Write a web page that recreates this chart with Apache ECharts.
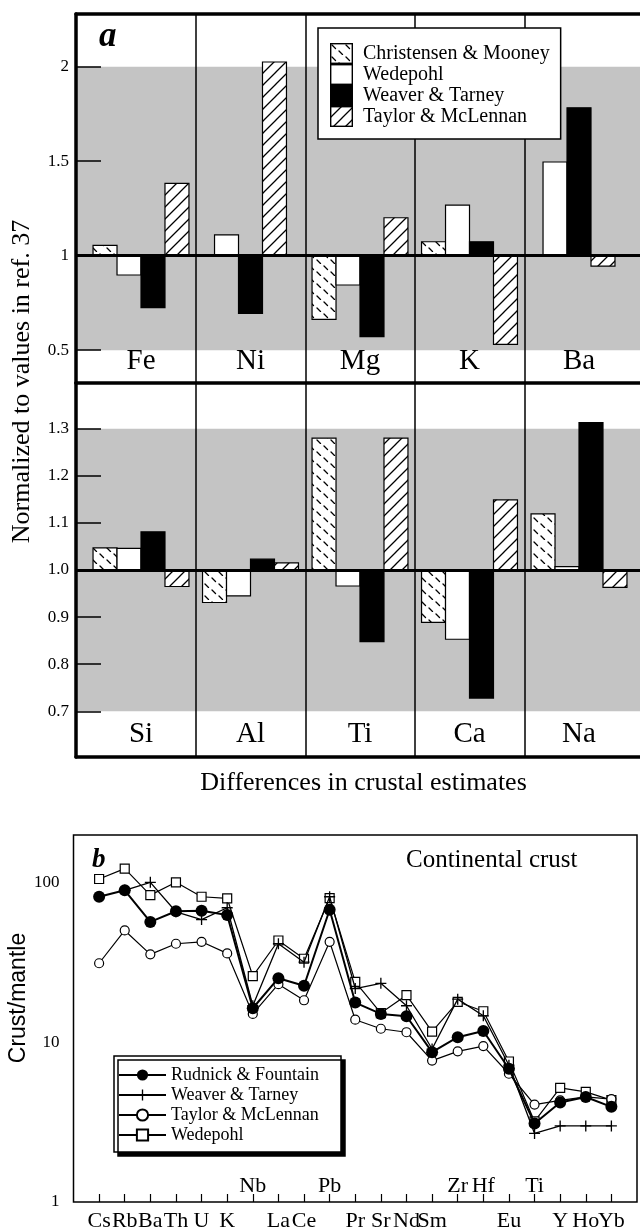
<!DOCTYPE html>
<html><head><meta charset="utf-8">
<script src="https://cdn.jsdelivr.net/npm/echarts@6/dist/echarts.min.js"></script>
<style>html,body{margin:0;padding:0;background:#fff}#c{width:640px;height:1232px}</style>
</head><body><div id="c"></div>
<script>
// ---------- data: panel a ----------
const SERIES_A = ['Christensen & Mooney', 'Wedepohl', 'Weaver & Tarney', 'Taylor & McLennan'];
const CATS_TOP = ['Fe', 'Ni', 'Mg', 'K', 'Ba'];
const CATS_BOT = ['Si', 'Al', 'Ti', 'Ca', 'Na'];
const CM_TOP = [1.055, null, 0.663, 1.074, null];
const WE_TOP = [0.898, 1.11, 0.845, 1.268, 1.496];
const WT_TOP = [0.725, 0.695, 0.572, 1.074, 1.783];
const TM_TOP = [1.383, 2.025, 1.201, 0.531, 0.945];
const CM_BOT = [1.047, 0.931, 1.28, 0.889, 1.119];
const WE_BOT = [1.046, 0.945, 0.966, 0.853, 1.007];
const WT_BOT = [1.081, 1.023, 0.848, 0.728, 1.313];
const TM_BOT = [0.965, 1.015, 1.28, 1.149, 0.963];
const TICKS_TOP = [0.5, 1, 1.5, 2];
const TICKS_BOT = [0.7, 0.8, 0.9, 1.0, 1.1, 1.2, 1.3];
const BAND_TOP = [0.5, 2];
const BAND_BOT = [0.7, 1.3];

// ---------- data: panel b ----------
const CATS_B = ['Cs','Rb','Ba','Th','U','K','Nb','La','Ce','Pb','Pr','Sr','Nd','Sm','Zr','Hf','Eu','Ti','Y','Ho','Yb'];
const UPPER_B = ['Nb','Pb','Zr','Hf','Ti'];
const RF = [82, 90, 57, 66.5, 67, 63, 16.4, 25.3, 22.7, 68, 17.8, 15.1, 14.6, 8.7, 10.8, 11.8, 6.85, 3.11, 4.2, 4.55, 3.95];
const WT_B = [null, 90, 101, 66, 59, 70, 17, 41.6, 31.9, 82, 21.8, 23.5, 17.0, 9.1, 18.7, 14.7, 7.2, 2.69, 3.0, 3.0, 3.0];
const TM_B = [31.4, 50.4, 35.7, 41.6, 42.8, 36.2, 15.1, 23.2, 18.4, 42.8, 13.9, 12.2, 11.6, 7.7, 8.8, 9.5, 6.37, 4.08, 4.34, 4.56, 4.42];
const WE_B = [106, 123, 84, 101, 82, 80, 26.1, 43.6, 33.5, 80.5, 24.0, 15.3, 19.8, 11.7, 18.0, 15.7, 7.6, 3.2, 5.19, 4.9, 4.35];
const MAJOR_B = [1, 10, 100];
const MINOR_B = [2, 3, 4, 5, 6, 7, 8, 9, 20, 30, 40, 50, 60, 70, 80, 90];

// ---------- styles ----------
const SERIF = '"Liberation Serif", "Times New Roman", serif';
const SANS = '"Liberation Sans", Arial, sans-serif';
const GRAY = '#c4c4c4';

function tile(w, h, draw) {
  const c = document.createElement('canvas'); c.width = w; c.height = h;
  const g = c.getContext('2d'); g.fillStyle = '#fff'; g.fillRect(0, 0, w, h);
  g.strokeStyle = '#000'; g.lineWidth = 1.3; g.lineCap = 'round'; draw(g); return c;
}
const hatchTile = tile(12, 12, g => { g.beginPath(); g.moveTo(-1, 13); g.lineTo(13, -1); g.moveTo(-1, 1); g.lineTo(1, -1); g.moveTo(11, 13); g.lineTo(13, 11); g.stroke(); });
const dashTile = tile(14, 12, g => { g.beginPath(); g.moveTo(2, 2); g.lineTo(5.5, 5.5); g.moveTo(9, 8); g.lineTo(12.5, 11.5); g.stroke(); });
const FILLS = [{ image: dashTile, repeat: 'repeat' }, '#ffffff', '#000000', { image: hatchTile, repeat: 'repeat' }];

function legendIcon(fill) {
  const c = document.createElement('canvas'); c.width = 23; c.height = 21;
  const g = c.getContext('2d');
  g.fillStyle = typeof fill === 'string' ? fill : g.createPattern(fill.image, 'repeat');
  g.fillRect(0, 0, 23, 21);
  g.strokeStyle = '#000'; g.lineWidth = 1.4; g.strokeRect(0.7, 0.7, 21.6, 19.6);
  return 'image://' + c.toDataURL();
}

const TOP_SET = [CM_TOP, WE_TOP, WT_TOP, TM_TOP];
const BOT_SET = [CM_BOT, WE_BOT, WT_BOT, TM_BOT];

function barSeries(gi, si, set) {
  return {
    type: 'custom', name: 'a·' + SERIES_A[si], xAxisIndex: gi, yAxisIndex: gi, z: 3,
    itemStyle: { color: si === 2 ? '#000' : '#fff' },
    data: set[si].map((v, i) => [i, v == null ? '-' : v]),
    renderItem(params, api) {
      const i = api.value(0), v = api.value(1);
      if (v == null || isNaN(v)) return null;
      const present = [];
      set.forEach((arr, k) => { if (arr[i] != null) present.push(k); });
      const n = present.length, k = present.indexOf(si);
      const bw = api.size([1, 0])[0] * 0.219;
      const base = api.coord([i, 1]), tip = api.coord([i, v]);
      const x0 = base[0] - n * bw / 2 + k * bw;
      return { type: 'rect', shape: { x: x0, y: Math.min(base[1], tip[1]), width: bw, height: Math.abs(tip[1] - base[1]) },
        style: { fill: FILLS[si], stroke: '#000', lineWidth: 1.2 } };
    }
  };
}
function bandSeries(gi, band) {
  return { type: 'custom', xAxisIndex: gi, yAxisIndex: gi, z: 0, silent: true, data: [[0, band[0], band[1]]],
    renderItem(params, api) {
      const cs = params.coordSys;
      const yHi = api.coord([0, api.value(2)])[1], yLo = api.coord([0, api.value(1)])[1];
      return { type: 'rect', shape: { x: cs.x, y: yHi, width: cs.width, height: yLo - yHi }, style: { fill: GRAY } };
    } };
}
function lineMarks(gi, ncat) {
  const d = [];
  for (let k = 0; k < ncat - 1; k++) d.push({ xAxis: k + 0.5, lineStyle: { width: 1.5, color: '#000', type: 'solid' } });
  d.push({ yAxis: 1, lineStyle: { width: 3.2, color: '#000', type: 'solid' } });
  return { type: 'line', xAxisIndex: gi, yAxisIndex: gi, data: [], z: 5, silent: true,
    markLine: { silent: true, symbol: 'none', label: { show: false }, emphasis: { disabled: true }, data: d } };
}

const padB = arr => [null, ...arr, null];
const CATS_B_PAD = ['', ...CATS_B, ''];
const PLUS = 'path://M4.4,0 h1.2 v4.4 h4.4 v1.2 h-4.4 v4.4 h-1.2 v-4.4 h-4.4 v-1.2 h4.4 z';

const X_MIN = -0.5936, X_MAX = 4.557;
const FRAME = { show: true, onZero: false, lineStyle: { color: '#000', width: 3.5 } };
function xAxisA(gi, cats, margin) {
  return { type: 'value', gridIndex: gi, min: X_MIN, max: X_MAX, position: 'bottom',
    axisLine: FRAME, axisTick: { show: false }, splitLine: { show: false },
    axisLabel: { inside: true, customValues: cats.map((c, i) => i), formatter: v => cats[Math.round(v)] || '',
      fontFamily: SERIF, fontSize: 29, color: '#000', margin: margin } };
}
function yAxisA(gi, min, max, ticks, fmt) {
  return { type: 'value', gridIndex: gi, min: min, max: max, position: 'left',
    axisLine: FRAME, splitLine: { show: false },
    axisTick: { inside: true, length: 25, customValues: ticks, lineStyle: { color: '#000', width: 1.5 } },
    axisLabel: { customValues: ticks, formatter: fmt, fontFamily: SERIF, fontSize: 17, color: '#000', margin: 7 } };
}
function yAxisB(pos, ticks, len, labels) {
  return { type: 'log', logBase: 10, gridIndex: 2, min: 1, max: 200, position: pos,
    axisLine: { show: false, onZero: false }, splitLine: { show: false }, minorTick: { show: false },
    axisTick: { inside: true, length: len, customValues: ticks, lineStyle: { color: '#000', width: 1.2 } },
    axisLabel: labels ? { customValues: ticks, fontFamily: SERIF, fontSize: 17, color: '#000', margin: 14 } : { show: false } };
}

const chart = echarts.init(document.getElementById('c'));
chart.setOption({
  animation: false,
  backgroundColor: '#fff',
  grid: [
    { left: 76, top: 14, right: 0, height: 369, show: false },
    { left: 76, top: 383, right: 0, height: 374, show: false },
    { left: 73.5, top: 835, width: 564.5, height: 369, show: true, borderColor: '#000', borderWidth: 1.5, backgroundColor: 'transparent' }
  ],
  xAxis: [
    xAxisA(0, CATS_TOP, 7),
    xAxisA(1, CATS_BOT, 8),
    { type: 'category', gridIndex: 2, data: CATS_B_PAD, boundaryGap: false,
      axisLine: { show: false, onZero: false }, splitLine: { show: false },
      axisTick: { inside: true, length: 8, interval: (i) => i > 0 && i < CATS_B_PAD.length - 1, lineStyle: { color: '#000', width: 1.2 } },
      axisLabel: { interval: 0, formatter: v => UPPER_B.includes(v) ? '' : v, fontFamily: SERIF, fontSize: 22, color: '#000', margin: 8 } },
    { type: 'category', gridIndex: 2, data: CATS_B_PAD, boundaryGap: false, position: 'bottom',
      axisLine: { show: false, onZero: false }, axisTick: { show: false }, splitLine: { show: false },
      axisLabel: { inside: true, interval: 0, formatter: v => UPPER_B.includes(v) ? v : '', fontFamily: SERIF, fontSize: 22, color: '#000', margin: 5 } },
    { type: 'value', gridIndex: 0, min: X_MIN, max: X_MAX, position: 'top',
      axisLine: FRAME, axisTick: { show: false }, axisLabel: { show: false }, splitLine: { show: false } }
  ],
  yAxis: [
    yAxisA(0, 0.3265, 2.279, TICKS_TOP, v => String(v)),
    yAxisA(1, 0.603, 1.397, TICKS_BOT, v => v.toFixed(1)),
    yAxisB('left', MAJOR_B, 9, true),
    yAxisB('left', MINOR_B, 5, false),
    yAxisB('right', MAJOR_B, 9, false),
    yAxisB('right', MINOR_B, 5, false)
  ],
  legend: [
    { data: SERIES_A.map((n, i) => ({ name: 'a·' + n, icon: legendIcon(FILLS[i]) })),
      formatter: n => n.slice(2), orient: 'vertical', left: 318, top: 28, itemWidth: 23, itemHeight: 21, itemGap: 0,
      padding: [15, 11, 12, 12], backgroundColor: '#fff', borderColor: '#000', borderWidth: 1.5, selectedMode: false, z: 10,
      textStyle: { fontFamily: SERIF, fontSize: 20, color: '#000', padding: [0, 0, 0, 5] } },
    { data: ['Rudnick & Fountain', 'Weaver & Tarney', 'Taylor & McLennan', 'Wedepohl'],
      orient: 'vertical', left: 114, top: 1056, itemWidth: 47, itemHeight: 14, itemGap: 2,
      padding: [10, 22, 8, 4], backgroundColor: '#fff', borderColor: '#000', borderWidth: 1.5,
      shadowColor: '#000', shadowBlur: 0.1, shadowOffsetX: 4, shadowOffsetY: 4, selectedMode: false, z: 10,
      textStyle: { fontFamily: SERIF, fontSize: 18, color: '#000' } }
  ],
  series: [
    bandSeries(0, BAND_TOP), bandSeries(1, BAND_BOT),
    ...SERIES_A.map((n, i) => barSeries(0, i, TOP_SET)),
    ...SERIES_A.map((n, i) => barSeries(1, i, BOT_SET)),
    lineMarks(0, CATS_TOP.length), lineMarks(1, CATS_BOT.length),
    { type: 'line', name: 'Wedepohl', xAxisIndex: 2, yAxisIndex: 2, data: padB(WE_B), symbol: 'rect', symbolSize: 9, z: 3,
      itemStyle: { color: '#fff', borderColor: '#000', borderWidth: 1.2 }, lineStyle: { color: '#000', width: 1.2 } },
    { type: 'line', name: 'Taylor & McLennan', xAxisIndex: 2, yAxisIndex: 2, data: padB(TM_B), symbol: 'circle', symbolSize: 9, z: 4,
      itemStyle: { color: '#fff', borderColor: '#000', borderWidth: 1.2 }, lineStyle: { color: '#000', width: 1.2 } },
    { type: 'line', name: 'Weaver & Tarney', xAxisIndex: 2, yAxisIndex: 2, data: padB(WT_B), symbol: PLUS, symbolSize: 11, z: 5,
      itemStyle: { color: '#000' }, lineStyle: { color: '#000', width: 1.3 } },
    { type: 'line', name: 'Rudnick & Fountain', xAxisIndex: 2, yAxisIndex: 2, data: padB(RF), symbol: 'circle', symbolSize: 12, z: 6,
      itemStyle: { color: '#000' }, lineStyle: { color: '#000', width: 2 } }
  ],
  graphic: [
    { type: 'text', x: 99, y: 37, z: 20, style: { text: 'a', font: 'italic bold 35px ' + SERIF, fill: '#000', textAlign: 'left', textVerticalAlign: 'middle', align: 'left', verticalAlign: 'middle' } },
    { type: 'text', x: 22.5, y: 381.5, rotation: Math.PI / 2, z: 20, style: { text: 'Normalized to values in ref. 37', font: '26px ' + SERIF, fill: '#000', textAlign: 'center', textVerticalAlign: 'middle', align: 'center', verticalAlign: 'middle' } },
    { type: 'text', x: 363.5, y: 783, z: 20, style: { text: 'Differences in crustal estimates', font: '26px ' + SERIF, fill: '#000', textAlign: 'center', textVerticalAlign: 'middle', align: 'center', verticalAlign: 'middle' } },
    { type: 'text', x: 92, y: 860, z: 20, style: { text: 'b', font: 'italic bold 27px ' + SERIF, fill: '#000', textAlign: 'left', textVerticalAlign: 'middle', align: 'left', verticalAlign: 'middle' } },
    { type: 'text', x: 406, y: 860, z: 20, style: { text: 'Continental crust', font: '25px ' + SERIF, fill: '#000', textAlign: 'left', textVerticalAlign: 'middle', align: 'left', verticalAlign: 'middle' } },
    { type: 'text', x: 18.5, y: 998, rotation: Math.PI / 2, z: 20, style: { text: 'Crust/mantle', font: '23px ' + SANS, fill: '#000', textAlign: 'center', textVerticalAlign: 'middle', align: 'center', verticalAlign: 'middle' } }
  ]
});
</script>
</body></html>
